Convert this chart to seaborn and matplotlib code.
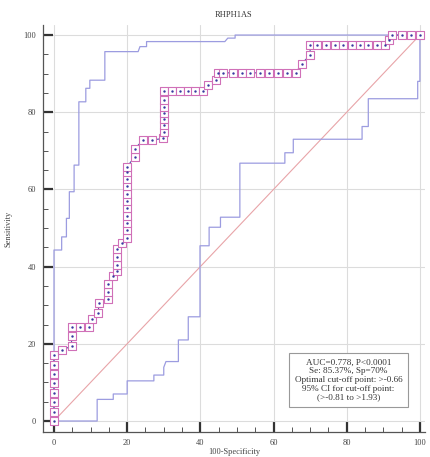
import numpy as np
import pandas as pd
import seaborn as sns
from matplotlib import pyplot as plt

# ROC operating points (100-Specificity, Sensitivity)
roc_fpr = [0, 0, 0, 0, 0, 0, 0, 0,
           2.3, 4.8, 4.8, 4.8, 7.2, 9.6, 10.5, 12.0, 12.4, 14.8, 14.8, 14.8,
           16.0, 17.1, 17.1, 17.1, 17.1, 18.5,
           20, 20, 20, 20, 20, 20, 20, 20, 20, 20, 20,
           22.1, 22.1, 24.4, 26.7, 29.9,
           30, 30, 30, 30, 30, 30, 30,
           32.2, 34.4, 36.7, 38.5, 40.8, 42.2, 44.4, 44.9,
           46.3, 48.8, 51.3, 53.7, 56.3, 58.8, 61.3, 63.6, 66.1,
           67.7, 70.0, 70.0,
           71.8, 74.3, 76.8, 79.1, 81.4, 83.6, 85.9, 88.2, 90.6,
           91.5, 92.5, 95.0, 97.5, 100]
roc_tpr = [0, 2.4, 4.9, 7.3, 9.8, 12.2, 14.6, 17.1,
           18.3, 19.5, 22.0, 24.4, 24.4, 24.4, 26.5, 28.0, 30.5, 31.5, 33.5, 35.5,
           37.5, 38.8, 40.5, 42.5, 44.5, 46.0,
           47.5, 49.4, 51.3, 53.2, 55.1, 57.0, 58.9, 60.8, 62.7, 64.6, 65.9,
           68.5, 70.6, 72.8, 72.8, 73.2,
           75.0, 76.7, 78.2, 79.7, 81.4, 83.2, 85.4,
           85.4, 85.4, 85.4, 85.4, 85.4, 87.0, 88.3, 90.2,
           90.2, 90.2, 90.2, 90.2, 90.2, 90.2, 90.2, 90.2, 90.2,
           92.6, 94.8, 97.4,
           97.4, 97.4, 97.4, 97.4, 97.4, 97.4, 97.4, 97.4, 97.4,
           98.6, 100, 100, 100, 100]

# 95% confidence bounds (step lines)
upper_x = [0, 0, 2.1, 2.1, 3.4, 3.4, 4.2, 4.2, 5.5, 5.5, 6.8, 6.8, 8.7, 8.7,
           9.8, 9.8, 13.9, 13.9, 23.0, 23.5, 25.3, 25.3, 46.7, 47.5, 49.5, 49.5, 100]
upper_y = [0, 44.3, 44.3, 47.7, 47.7, 52.5, 52.5, 59.4, 59.4, 66.3, 66.3, 82.7, 82.7, 86.2,
           86.2, 88.3, 88.3, 95.7, 95.7, 97.0, 97.0, 98.3, 98.3, 99.2, 99.2, 100, 100]
lower_x = [0, 11.8, 11.8, 16.2, 16.2, 20, 20, 27.3, 27.3, 30, 30, 30.6, 34, 34,
           36.7, 36.7, 39.9, 39.9, 42.4, 42.4, 45.5, 45.5, 50.8, 50.8, 63.1, 63.1,
           65.4, 65.4, 84.2, 84.2, 85.9, 85.9, 99.4, 99.4, 100, 100]
lower_y = [0, 0, 5.6, 5.6, 7.0, 7.0, 10.4, 10.4, 11.9, 11.9, 13.9, 15.4, 15.4, 21.0,
           21.0, 27.0, 27.0, 45.4, 45.4, 50.2, 50.2, 52.8, 52.8, 66.8, 66.8, 69.5,
           69.5, 73.0, 73.0, 76.3, 76.3, 83.5, 83.5, 88.0, 88.0, 100]

ref_line = [0, 100]

title = "RHPH1AS"
info = ("AUC=0.778, P<0.0001\nSe: 85.37%, Sp=70%\nOptimal cut-off point: >-0.66\n"
        "95% CI for cut-off point:\n(>-0.81 to >1.93)")

sns.set_style("white")
plt.rcParams['font.family'] = ['Liberation Serif', 'DejaVu Serif']

fig = plt.figure(figsize=(4.3, 4.57), dpi=100)
ax = fig.add_axes([0.1, 0.0547, 0.8884, 0.8906])

roc = pd.DataFrame({'fpr': roc_fpr, 'tpr': roc_tpr})

# estimator=None so repeated x values are drawn as they are (no averaging)
sns.lineplot(x=ref_line, y=ref_line, estimator=None, color='#e8a4a8', lw=0.8, ax=ax)
sns.lineplot(x=upper_x, y=upper_y, sort=False, estimator=None, color='#9c9ce0', lw=0.9, ax=ax)
sns.lineplot(x=lower_x, y=lower_y, sort=False, estimator=None, color='#9c9ce0', lw=0.9, ax=ax)
sns.lineplot(data=roc, x='fpr', y='tpr', sort=False, estimator=None, color='#5050a8',
             lw=0.8, ax=ax)
sns.scatterplot(data=roc, x='fpr', y='tpr', marker='s', s=38, facecolor='white',
                edgecolor='#d070b8', linewidth=0.8, ax=ax, zorder=4)
sns.scatterplot(data=roc, x='fpr', y='tpr', marker='o', s=3, color='#3838a0',
                linewidth=0, ax=ax, zorder=5)

ax.set_xlim(-3.0, 101.4)
ax.set_ylim(-2.85, 102.6)
ax.set_xticks(range(0, 101, 20))
ax.set_yticks(range(0, 101, 20))
ax.set_xticks(range(0, 101, 5), minor=True)
ax.set_yticks(range(0, 101, 5), minor=True)
ax.grid(True, which='major', color='#dcdcdc', lw=0.8)
ax.set_axisbelow(True)

ax.tick_params(which='major', direction='in', length=7, width=1.6, color='#333333',
               labelsize=6, labelcolor='#444444', pad=5)
ax.tick_params(which='minor', direction='in', length=3.5, width=0.7, color='#555555')
ax.tick_params(axis='x', which='both', bottom=True)
ax.tick_params(axis='y', which='both', left=True)

sns.despine(ax=ax)
for side in ['left', 'bottom']:
    ax.spines[side].set_color('#555555')
    ax.spines[side].set_linewidth(0.9)

ax.set_title(title, fontsize=6, color='#333333', pad=6)
ax.set_xlabel('100-Specificity', fontsize=6, color='#444444', labelpad=1)
ax.set_ylabel('Sensitivity', fontsize=6, color='#444444', labelpad=8)

ax.text(0.80, 0.128, info, transform=ax.transAxes, ha='center', va='center',
        fontsize=6.6, color='#333333', linespacing=1.1,
        bbox=dict(boxstyle='square,pad=0.65', facecolor='white', edgecolor='#999999', lw=0.8))

fig.savefig('out.png', dpi=100)
